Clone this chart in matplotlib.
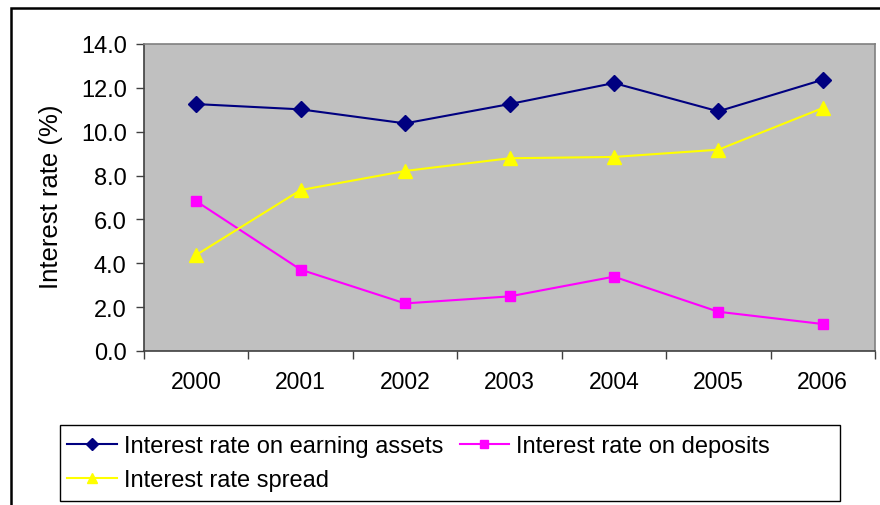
import matplotlib
matplotlib.use("Agg")
import matplotlib.pyplot as plt
from matplotlib.patches import Rectangle
from matplotlib.ticker import FixedLocator, NullFormatter, FormatStrFormatter

plt.rcParams['font.family'] = ['Liberation Sans', 'DejaVu Sans']

years = ['2000', '2001', '2002', '2003', '2004', '2005', '2006']
earning_assets = [11.26, 11.02, 10.38, 11.26, 12.22, 10.93, 12.37]
deposits = [6.83, 3.71, 2.17, 2.49, 3.39, 1.79, 1.23]
spread = [4.38, 7.34, 8.21, 8.79, 8.85, 9.18, 11.08]

fig = plt.figure(figsize=(8.8, 5.06), dpi=100)
ax = fig.add_axes([144 / 880, 1 - 352 / 506, 731 / 880, 307 / 506])
ax.set_facecolor('#C0C0C0')

# categories sit between the tick marks, like an Excel category axis
xs = [i + 0.5 for i in range(len(years))]
l1, = ax.plot(xs, earning_assets, color='#000080', lw=1.5, marker='D', ms=8,
              label='Interest rate on earning assets')
l2, = ax.plot(xs, deposits, color='#FF00FF', lw=1.5, marker='s', ms=7.5,
              label='Interest rate on deposits')
l3, = ax.plot(xs, spread, color='#FFFF00', lw=1.5, marker='^', ms=9.5,
              label='Interest rate spread')

ax.set_xlim(0, len(years))
ax.set_ylim(0, 14)
ax.set_yticks([0, 2, 4, 6, 8, 10, 12, 14])
ax.yaxis.set_major_formatter(FormatStrFormatter('%.1f'))
ax.xaxis.set_major_locator(FixedLocator(range(len(years) + 1)))
ax.xaxis.set_major_formatter(NullFormatter())
ax.xaxis.set_minor_locator(FixedLocator(xs))
ax.set_xticklabels(years, minor=True)
ax.tick_params(axis='x', which='major', length=6, width=1, color='#404040')
ax.tick_params(axis='x', which='minor', length=0, pad=14, labelsize=16.5)
ax.tick_params(axis='y', length=6, width=1, color='#404040', labelsize=17, pad=6.5)

for side in ('left', 'bottom'):
    ax.spines[side].set_color('#404040')
    ax.spines[side].set_linewidth(1.2)
for side in ('top', 'right'):
    ax.spines[side].set_color('#808080')
    ax.spines[side].set_linewidth(1.2)

ax.set_ylabel('Interest rate (%)', fontsize=18.5)
ax.yaxis.set_label_coords(-0.111, 0.505)

# legend: rows filled left to right
leg = fig.legend([l1, l3, l2], [l1.get_label(), l3.get_label(), l2.get_label()],
                 ncol=2, loc='upper left', bbox_to_anchor=(67 / 880, 1 - 436 / 506),
                 frameon=False, fontsize=17, handlelength=2.1, handletextpad=0.3,
                 columnspacing=0.7, labelspacing=0.5, borderpad=0, borderaxespad=0,
                 markerscale=0.75)

fig.patches.append(Rectangle((59.5 / 880, 1 - 502 / 506), 780.5 / 880, 76.3 / 506,
                             transform=fig.transFigure, fill=False,
                             edgecolor='black', lw=1))
fig.patches.append(Rectangle((10.5 / 880, -0.1), 1.2, 1 - 9 / 506 + 0.1,
                             transform=fig.transFigure, fill=False,
                             edgecolor='black', lw=1.8))

fig.savefig('out.png', dpi=100)
